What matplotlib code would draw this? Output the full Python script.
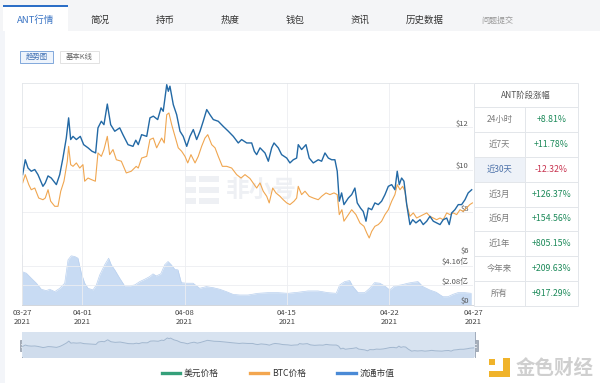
import numpy as np
import matplotlib
matplotlib.use('Agg')
import matplotlib.pyplot as plt
import matplotlib.dates as mdates
from matplotlib.patches import Rectangle
from matplotlib.lines import Line2D
import datetime as dt

plt.rcParams['font.family'] = ['Noto Sans CJK SC', 'DejaVu Sans']

# ---------------- data ----------------
# time = days after 2021-03-27 00:00
usd_days = [0.90, 1.08, 1.27, 1.49, 1.73, 1.95, 2.29, 2.45, 2.64, 2.86,
            3.21, 3.44, 3.66, 3.89, 4.05, 4.19, 4.35, 4.58, 4.85, 5.08,
            5.38, 5.65, 5.90, 6.06, 6.29, 6.47, 6.70, 6.93, 7.21, 7.55,
            7.77, 8.12, 8.46, 8.65, 8.82, 9.05, 9.40, 9.62, 9.85, 10.15,
            10.38, 10.53, 10.77, 10.88, 10.99, 11.22, 11.45, 11.68, 11.90, 12.14,
            12.36, 12.59, 12.82, 13.05, 13.27, 13.51, 13.73, 13.96, 14.30, 14.64,
            14.99, 15.33, 15.67, 15.90, 16.25, 16.59, 16.77, 16.93, 17.16, 17.50,
            17.73, 17.96, 18.12, 18.41, 18.64, 18.99, 19.21, 19.44, 19.67, 19.78,
            20.01, 20.31, 20.53, 20.81, 21.15, 21.38, 21.61, 21.84, 22.07, 22.29,
            22.45, 22.59, 22.75, 22.91, 23.21, 23.44, 23.66, 23.82, 24.05, 24.23,
            24.42, 24.58, 24.81, 25.03, 25.26, 25.49, 25.72, 25.95, 26.18, 26.40,
            26.56, 26.70, 26.86, 27.02, 27.21, 27.43, 27.62, 27.84, 28.12, 28.34,
            28.58, 28.80, 29.03, 29.26, 29.49, 29.71, 29.95, 30.12, 30.29, 30.51,
            30.74, 30.97, 31.20, 31.42, 31.66]
usd_price = [9.78, 10.48, 10.09, 9.94, 10.02, 9.78, 9.23, 9.39, 9.72, 9.62,
             9.31, 9.78, 10.56, 11.50, 12.45, 11.43, 11.58, 11.43, 11.58, 11.19,
             11.04, 10.88, 10.80, 11.98, 12.29, 12.13, 13.10, 12.13, 11.82, 11.98,
             11.66, 11.19, 11.11, 11.40, 11.19, 11.66, 11.58, 12.45, 12.53, 12.37,
             12.92, 12.76, 14.01, 13.70, 13.94, 13.07, 12.60, 11.82, 11.58, 11.11,
             11.58, 11.90, 11.43, 11.82, 12.29, 12.84, 12.60, 12.37, 12.29, 12.05,
             11.82, 11.58, 11.27, 11.43, 11.27, 11.27, 10.88, 10.72, 11.04, 10.80,
             10.41, 11.04, 11.27, 11.04, 10.72, 10.56, 10.33, 10.48, 10.56, 11.19,
             10.96, 11.19, 10.56, 10.33, 10.48, 10.41, 10.80, 10.56, 10.48, 10.48,
             9.94, 8.53, 8.92, 8.37, 8.68, 8.84, 9.15, 8.45, 8.20, 8.05,
             7.59, 8.21, 8.13, 8.45, 8.37, 8.53, 8.84, 9.23, 9.31, 9.07,
             9.94, 9.31, 9.62, 9.47, 8.37, 7.43, 7.66, 7.51, 7.66, 7.43,
             7.59, 7.82, 7.59, 7.51, 7.43, 7.66, 7.74, 7.43, 7.98, 8.13,
             8.37, 8.37, 8.60, 8.92, 9.07]

btc_days = [0.90, 1.08, 1.32, 1.49, 1.73, 2.00, 2.29, 2.45, 2.64, 2.82,
            3.10, 3.32, 3.51, 3.73, 3.96, 4.05, 4.19, 4.35, 4.58, 4.81,
            5.03, 5.15, 5.38, 5.60, 5.88, 6.06, 6.29, 6.47, 6.70, 6.86,
            7.09, 7.32, 7.66, 8.00, 8.34, 8.68, 8.82, 9.05, 9.40, 9.62,
            9.85, 10.08, 10.42, 10.60, 10.77, 10.92, 11.11, 11.34, 11.56, 11.79,
            12.02, 12.21, 12.43, 12.71, 12.93, 13.16, 13.39, 13.58, 13.85, 14.08,
            14.30, 14.58, 14.88, 15.22, 15.56, 15.86, 16.13, 16.47, 16.77, 16.93,
            17.16, 17.38, 17.62, 17.79, 18.03, 18.25, 18.53, 18.75, 18.99, 19.21,
            19.49, 19.67, 19.78, 20.01, 20.24, 20.53, 20.81, 21.15, 21.38, 21.68,
            21.95, 22.23, 22.45, 22.59, 22.77, 22.91, 23.21, 23.44, 23.73, 24.01,
            24.28, 24.47, 24.64, 24.81, 25.03, 25.26, 25.49, 25.72, 25.95, 26.18,
            26.40, 26.56, 26.75, 26.93, 27.09, 27.21, 27.43, 27.66, 27.89, 28.12,
            28.34, 28.58, 28.80, 29.03, 29.26, 29.49, 29.71, 29.95, 30.17, 30.40,
            30.63, 30.86, 31.08, 31.31, 31.53, 31.71]
# BTC price, drawn on its own (hidden) scale, read in the chart's units
btc_price = [9.39, 9.78, 9.31, 9.07, 9.15, 8.68, 8.60, 8.68, 9.07, 8.53,
             8.29, 8.29, 9.00, 9.47, 10.41, 11.11, 10.25, 10.17, 10.33, 10.09,
             10.25, 9.47, 9.62, 9.55, 9.47, 10.80, 10.64, 10.96, 11.58, 10.72,
             10.96, 10.48, 10.41, 9.86, 9.94, 10.17, 10.09, 10.56, 10.64, 11.43,
             11.50, 11.04, 11.50, 11.27, 12.60, 12.68, 12.13, 11.58, 11.04, 10.88,
             10.64, 10.33, 10.72, 10.33, 10.64, 11.11, 11.50, 11.66, 11.19, 11.04,
             10.64, 10.17, 10.17, 10.09, 9.78, 9.62, 9.78, 9.60, 9.31, 9.15,
             9.39, 9.00, 8.76, 8.45, 9.15, 8.92, 8.76, 8.60, 8.45, 8.37,
             8.53, 8.68, 9.23, 8.84, 9.00, 8.76, 8.68, 8.60, 8.76, 8.92,
             8.84, 8.92, 8.84, 7.90, 8.13, 7.59, 7.90, 8.13, 7.90, 7.50,
             7.35, 7.04, 6.80, 7.11, 7.35, 7.43, 7.59, 7.90, 8.13, 8.53,
             8.84, 9.31, 9.07, 9.23, 9.00, 8.37, 7.82, 7.98, 7.74, 7.82,
             7.90, 7.98, 7.82, 7.74, 7.66, 7.74, 7.66, 7.98, 7.90, 7.98,
             7.90, 8.13, 8.05, 8.21, 8.37, 8.45]

vol_days = [0.86, 1.15, 1.49, 1.84, 2.18, 2.52, 2.75, 3.10, 3.44, 3.78,
            4.01, 4.23, 4.47, 4.69, 4.92, 5.15, 5.38, 5.72, 5.95, 6.18,
            6.52, 6.79, 6.97, 7.21, 7.55, 7.89, 8.23, 8.58, 8.92, 9.26,
            9.60, 9.83, 10.05, 10.36, 10.63, 10.86, 11.08, 11.32, 11.54, 11.77,
            12.11, 12.57, 13.03, 13.48, 13.94, 14.40, 14.85, 15.31, 15.77, 16.34,
            17.02, 17.71, 18.39, 19.08, 19.76, 20.45, 21.13, 21.82, 22.38, 22.62,
            22.96, 23.30, 23.53, 23.87, 24.33, 24.67, 25.01, 25.36, 25.70, 26.04,
            26.38, 26.84, 27.29, 27.64, 27.98, 28.32, 28.78, 29.23, 29.69, 30.03,
            30.38, 30.72, 31.18, 31.63]
vol_value = [3.54, 3.37, 2.84, 2.31, 1.67, 1.52, 1.67, 1.42, 1.77, 2.31,
             4.79, 5.21, 5.14, 4.96, 3.37, 2.31, 1.77, 1.60, 2.13, 3.19,
             4.26, 4.96, 4.26, 3.72, 2.84, 2.02, 2.02, 2.13, 2.48, 2.73,
             3.01, 3.30, 3.08, 3.30, 4.26, 4.61, 4.26, 3.79, 3.72, 2.37,
             2.31, 2.31, 1.77, 1.95, 1.84, 1.67, 1.42, 1.13, 1.06, 1.06,
             1.24, 1.31, 1.31, 1.24, 1.35, 1.49, 1.49, 1.31, 1.24, 2.13,
             2.48, 2.59, 1.95, 1.31, 1.31, 1.77, 2.37, 2.31, 2.02, 1.60,
             2.02, 2.13, 2.31, 2.41, 2.48, 1.95, 1.60, 1.35, 0.88, 0.88,
             1.13, 1.31, 1.31, 1.24]  # 亿 USD

price_ticks = [6, 8, 10, 12]
price_labels = ['$6', '$8', '$10', '$12']
vol_ticks = [0, 2.08, 4.16]
vol_labels = ['$0', '$2.08亿', '$4.16亿']
date_ticks = ['2021-04-01', '2021-04-08', '2021-04-15', '2021-04-22']
range_start_day, range_end_day = 0.856, 31.75

tabs = ['ANT行情', '简况', '持币', '热度', '钱包', '资讯', '历史数据']
period_names = ['24小时', '近7天', '近30天', '近3月', '近6月', '近1年', '今年来', '所有']
period_changes = ['+8.81%', '+11.78%', '-12.32%', '+126.37%', '+154.56%',
                  '+805.15%', '+209.63%', '+917.29%']
legend_names = ['美元价格', 'BTC价格', '流通市值']
legend_colors = ['#35a07a', '#f3a64f', '#4a8ad6']

# ---------------- figure ----------------
W, H = 600, 383
fig = plt.figure(figsize=(6.0, 3.83), dpi=100)
fig.patch.set_facecolor('white')


def rect(x0, y0, x1, y1):
    return [x0 / W, 1 - y1 / H, (x1 - x0) / W, (y1 - y0) / H]


bg = fig.add_axes([0, 0, 1, 1], zorder=0)
bg.set_xlim(0, W)
bg.set_ylim(H, 0)
bg.axis('off')

# tab bar
bg.add_patch(Rectangle((0, 0), W, 31, fc='#f4f5f7', ec='none'))
bg.add_patch(Rectangle((0, 31), 5, H - 31, fc='#f3f5f9', ec='none'))
bg.add_patch(Rectangle((3, 5), 65, 26, fc='white', ec='none'))
bg.add_patch(Rectangle((3, 5), 65, 1.8, fc='#2c6fc7', ec='none'))
tab_x = [36, 100, 165, 230, 295, 360, 425]
for i, (name, x) in enumerate(zip(tabs, tab_x)):
    bg.text(x, 20, name, ha='center', va='center', fontsize=6.8,
            color='#3a74c4' if i == 0 else '#333333')
bg.text(497, 20, '问题提交', ha='center', va='center', fontsize=5.8, color='#999999')

# buttons
bg.add_patch(Rectangle((20, 51), 33, 12, fc='#eef4fc', ec='#6e9bd6', lw=0.6))
bg.text(36.5, 57, '趋势图', ha='center', va='center', fontsize=5.3, color='#3e6fb3')
bg.add_patch(Rectangle((60, 51), 39, 12, fc='white', ec='#dddddd', lw=0.6))
bg.text(79.5, 57, '基本K线', ha='center', va='center', fontsize=5.3, color='#666666')

# watermark (behind the lines)
for yy in (179, 190, 201):
    bg.add_patch(Rectangle((185, yy - 3), 11, 6, fc='#eef0f4', ec='none'))
    bg.add_patch(Rectangle((199, yy - 3), 20, 6, fc='#eef0f4', ec='none'))
bg.text(261, 190, '非小号', ha='center', va='center', fontsize=17,
        color='#eef0f4', fontweight='bold')

# dates
t0 = mdates.date2num(dt.datetime(2021, 3, 27))
x_usd = t0 + np.array(usd_days)
x_btc = t0 + np.array(btc_days)
x_vol = t0 + np.array(vol_days)
xmin, xmax = t0 + range_start_day, t0 + range_end_day
grid_x = [mdates.date2num(dt.datetime.strptime(d, '%Y-%m-%d')) for d in date_ticks]

grid_c = '#eceef1'
edge_c = '#e2e5e9'

# price panel
axp = fig.add_axes(rect(22, 83, 473, 255), zorder=1)
axp.set_facecolor('none')
axp.plot(x_btc, btc_price, color='#f0a650', lw=0.8)
axp.plot(x_usd, usd_price, color='#2369a5', lw=1.0)
axp.set_xlim(xmin, xmax)
axp.set_ylim(6, 14.09)
axp.set_axisbelow(True)
axp.set_xticks(grid_x)
axp.tick_params(axis='x', length=0, labelbottom=False)
axp.set_yticks(price_ticks)
axp.set_yticklabels(price_labels)
axp.yaxis.tick_right()
axp.tick_params(axis='y', length=0, pad=-3, labelsize=5.5, labelcolor='#555555')
for lab in axp.get_yticklabels():
    lab.set_ha('right')
    lab.set_va('bottom')
axp.grid(True, color=grid_c, lw=0.6)
for s in ('right', 'bottom'):
    axp.spines[s].set_visible(False)
for s in ('top', 'left'):
    axp.spines[s].set_color(edge_c)
    axp.spines[s].set_linewidth(0.6)

# volume panel
axv = fig.add_axes(rect(22, 255, 473, 305), zorder=1)
axv.set_facecolor('none')
axv.fill_between(x_vol, vol_value, 0, color='#c8dbf3', lw=0, zorder=0.3)
axv.plot(x_vol, vol_value, color='#b9d0ef', lw=0.5, zorder=0.35)
axv.set_xlim(xmin, xmax)
axv.set_ylim(0, 5.3)
axv.set_axisbelow(True)
axv.set_yticks(vol_ticks)
axv.set_yticklabels(vol_labels)
axv.yaxis.tick_right()
axv.tick_params(axis='y', length=0, pad=-3, labelsize=5.5, labelcolor='#555555')
for lab in axv.get_yticklabels():
    lab.set_ha('right')
    lab.set_va('bottom')
axv.set_xticks([xmin] + grid_x + [xmax])
axv.xaxis.set_major_formatter(mdates.DateFormatter('%m-%d\n%Y'))
axv.tick_params(axis='x', length=0, pad=3, labelsize=5.5, labelcolor='#444444')
axv.grid(True, color=grid_c, lw=0.6)
axv.spines['top'].set_visible(False)
axv.spines['right'].set_visible(False)
axv.spines['left'].set_color(edge_c)
axv.spines['left'].set_linewidth(0.6)
axv.spines['bottom'].set_color('#d3d7dd')
axv.spines['bottom'].set_linewidth(0.7)

# navigator
axn = fig.add_axes(rect(22, 332, 475, 357), zorder=1)
axn.set_facecolor('#d8e3f0')
axn.fill_between(x_usd, usd_price, 0, color='#cfdcec', lw=0)
axn.plot(x_usd, usd_price, color='#a2b7cf', lw=0.7)
axn.set_xlim(xmin, xmax)
axn.set_ylim(4.5, 17)
axn.set_xticks([])
axn.set_yticks([])
for s in axn.spines.values():
    s.set_visible(False)
for hx in (22, 475):
    bg.plot([hx, hx], [332, 357], color='#a0abba', lw=0.7)
    bg.add_patch(Rectangle((hx - 2.5, 339.5), 5, 11, fc='#a7b0bc', ec='#8f99a7', lw=0.5))
    bg.plot([hx - 1, hx + 1], [343.5, 343.5], color='white', lw=0.5)
    bg.plot([hx - 1, hx + 1], [346.5, 346.5], color='white', lw=0.5)

# table
tx0, tsp, tx1 = 474, 525, 578
ty0, tyh, ty1 = 83, 107, 306
border = '#e3e6ea'
row_edges = np.linspace(tyh, ty1, len(period_names) + 1)
bg.add_patch(Rectangle((tx0, row_edges[2]), tsp - tx0, row_edges[3] - row_edges[2],
                       fc='#eef2f8', ec='none'))
bg.add_patch(Rectangle((tx0, ty0), tx1 - tx0, ty1 - ty0, fc='none', ec=border, lw=0.7))
for yy in row_edges[:-1]:
    bg.plot([tx0, tx1], [yy, yy], color=border, lw=0.7)
bg.plot([tsp, tsp], [tyh, ty1], color=border, lw=0.7)
bg.text((tx0 + tx1) / 2, (ty0 + tyh) / 2, 'ANT阶段涨幅', ha='center', va='center',
        fontsize=6, color='#555555')
for i, (nm, ch) in enumerate(zip(period_names, period_changes)):
    yc = (row_edges[i] + row_edges[i + 1]) / 2
    bg.text((tx0 + tsp) / 2, yc, nm, ha='center', va='center', fontsize=6,
            color='#4b70a8' if i == 2 else '#7a7a7a')
    bg.text((tsp + tx1) / 2, yc, ch, ha='center', va='center', fontsize=6.3,
            color='#c8324e' if ch.startswith('-') else '#1d8a5a')

# legend
handles = [Line2D([], [], color=c, lw=2.4) for c in legend_colors]
fig.legend(handles, legend_names, loc='center', bbox_to_anchor=(278 / W, 1 - 373.5 / H),
           ncol=3, frameon=False, fontsize=6.3, handlelength=2.1, handletextpad=0.4,
           columnspacing=3.6, labelcolor='#333333')

# 金色财经 watermark
gold = '#f0b32a'
bg.add_patch(Rectangle((489, 359), 6, 6, fc=gold, ec='none'))
bg.add_patch(Rectangle((503, 358), 6.5, 19, fc=gold, ec='none'))
bg.add_patch(Rectangle((489, 371), 20, 6, fc=gold, ec='none'))
bg.text(555, 368, '金色财经', ha='center', va='center', fontsize=14,
        color='#cfcfcf', fontweight='bold')

fig.savefig('out.png', dpi=100)
